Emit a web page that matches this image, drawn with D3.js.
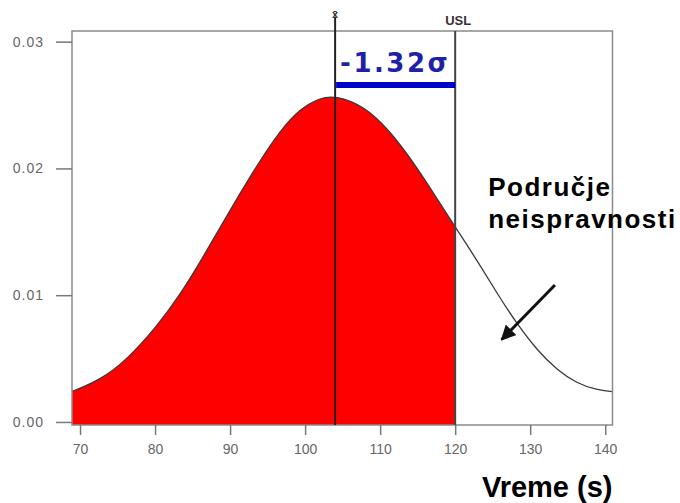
<!DOCTYPE html>
<html>
<head>
<meta charset="utf-8">
<script src="https://cdn.jsdelivr.net/npm/d3@7"></script>
<style>
  body { margin: 0; background: #fff; }
  svg { display: block; }
</style>
</head>
<body>
<div id="chart"></div>
<script>
// Curve points (time in s, density)
const curveX = [68.9, 72.7, 76.2, 80.2, 83.3, 86, 88.7, 91.3, 94, 96.7, 99.3, 102, 104,
                107.8, 111.3, 114.9, 118, 120, 122.9, 125.6, 128.2, 130.9, 133.6, 136.2, 138.9, 141];
const curveY = [0.00239, 0.00331, 0.00488, 0.0075, 0.0100, 0.0126, 0.01538, 0.01801, 0.02063, 0.02299, 0.0247, 0.02557, 0.02575,
                0.02496, 0.02299, 0.0201, 0.01722, 0.01538, 0.01276, 0.01013, 0.00777, 0.00567, 0.00409, 0.00305, 0.00252, 0.00239];
const xTicks = [70, 80, 90, 100, 110, 120, 130, 140];
const yTicks = [0.00, 0.01, 0.02, 0.03];
const meanValue = 104;
const uslValue = 120;
const sigmaLabel = "-1.32σ";
const noteLines = ["Područje", "neispravnosti"];
const arrowFrom = [133.3, 0.0108];
const arrowTo = [126.2, 0.0065];

const W = 680, H = 503;
const margin = { top: 31, right: 67.5, bottom: 78, left: 72 };
const width = W - margin.left - margin.right;
const height = H - margin.top - margin.bottom;

const svg = d3.select("#chart").append("svg")
  .attr("width", W)
  .attr("height", H);

const defs = svg.append("defs");

const g = svg.append("g")
  .attr("transform", `translate(${margin.left},${margin.top})`);

const x = d3.scaleLinear().domain([68.93, 140.97]).range([0, width]);
const y = d3.scaleLinear().domain([-0.00024, 0.03084]).range([height, 0]);

const points = curveX.map((v, i) => ({ x: v, y: curveY[i] }));
const smooth = d3.curveBasis;

// clip for the red part (left of USL)
defs.append("clipPath")
  .attr("id", "below-usl")
  .append("rect")
  .attr("x", 0).attr("y", 0)
  .attr("width", x(uslValue))
  .attr("height", height);

const area = d3.area()
  .x(d => x(d.x))
  .y0(height)
  .y1(d => y(d.y))
  .curve(smooth);

g.append("path")
  .datum(points)
  .attr("clip-path", "url(#below-usl)")
  .attr("fill", "#ff0000")
  .attr("d", area);

// curve outline
const line = d3.line()
  .x(d => x(d.x))
  .y(d => y(d.y))
  .curve(smooth);

g.append("path")
  .datum(points)
  .attr("fill", "none")
  .attr("stroke", "#3a3a3a")
  .attr("stroke-width", 1.3)
  .attr("d", line);

// frame
g.append("rect")
  .attr("width", width)
  .attr("height", height)
  .attr("fill", "none")
  .attr("stroke", "#8a8a8a")
  .attr("stroke-width", 1.5);

// x axis
const xAxis = g.append("g")
  .attr("transform", `translate(0,${height})`)
  .call(d3.axisBottom(x).tickValues(xTicks).tickSize(10).tickPadding(9));
xAxis.select(".domain").remove();
xAxis.selectAll("line").attr("stroke", "#777").attr("stroke-width", 1.5);
xAxis.selectAll("text")
  .attr("fill", "#666")
  .style("font-family", "Liberation Sans, Arial, sans-serif")
  .style("font-size", "14px");

// y axis
const yAxis = g.append("g")
  .call(d3.axisLeft(y).tickValues(yTicks).tickFormat(d3.format(".2f")).tickSize(16).tickPadding(12));
yAxis.select(".domain").remove();
yAxis.selectAll("line").attr("stroke", "#777").attr("stroke-width", 1.5);
yAxis.selectAll("text")
  .attr("fill", "#666")
  .style("font-family", "Liberation Sans, Arial, sans-serif")
  .style("font-size", "14px")
  .style("letter-spacing", "1px");

// mean and USL lines
g.append("line")
  .attr("x1", x(meanValue)).attr("x2", x(meanValue))
  .attr("y1", -14).attr("y2", height)
  .attr("stroke", "#222")
  .attr("stroke-width", 2);

g.append("text")
  .attr("x", x(meanValue))
  .attr("y", -13)
  .attr("text-anchor", "middle")
  .attr("fill", "#333")
  .style("font-family", "Liberation Sans, Arial, sans-serif")
  .style("font-size", "11px")
  .style("font-weight", "bold")
  .text("x̄");

g.append("line")
  .attr("x1", x(uslValue)).attr("x2", x(uslValue))
  .attr("y1", 0).attr("y2", height)
  .attr("stroke", "#444")
  .attr("stroke-width", 2);

g.append("text")
  .attr("x", x(uslValue) + 3)
  .attr("y", -6)
  .attr("text-anchor", "middle")
  .attr("fill", "#333")
  .style("font-family", "Liberation Sans, Arial, sans-serif")
  .style("font-size", "13px")
  .style("font-weight", "bold")
  .text("USL");

// sigma bar and label
g.append("rect")
  .attr("x", x(meanValue) + 1)
  .attr("y", 51)
  .attr("width", x(uslValue) - x(meanValue) - 1)
  .attr("height", 6)
  .attr("fill", "#0000cc");

g.append("text")
  .attr("x", x(meanValue) + 5)
  .attr("y", 41)
  .attr("fill", "#1f1fa8")
  .style("font-family", "DejaVu Sans, Verdana, sans-serif")
  .style("font-size", "26px")
  .style("font-weight", "bold")
  .style("letter-spacing", "2.5px")
  .text(sigmaLabel);

// annotation text
const note = g.append("text")
  .attr("x", x(uslValue) + 33)
  .attr("y", 165)
  .attr("fill", "#000")
  .style("font-family", "Liberation Sans, Arial, sans-serif")
  .style("font-size", "26px")
  .style("font-weight", "bold")
  .style("letter-spacing", "1.5px");

note.selectAll("tspan")
  .data(noteLines)
  .enter().append("tspan")
  .attr("x", x(uslValue) + 33)
  .attr("dy", (d, i) => i === 0 ? 0 : 32)
  .text(d => d);

// arrow
defs.append("marker")
  .attr("id", "arrowhead")
  .attr("viewBox", "0 0 10 10")
  .attr("refX", 9).attr("refY", 5)
  .attr("markerWidth", 5).attr("markerHeight", 5)
  .attr("orient", "auto")
  .append("path")
  .attr("d", "M0,0 L10,5 L0,10 z")
  .attr("fill", "#111");

g.append("line")
  .attr("x1", x(arrowFrom[0])).attr("y1", y(arrowFrom[1]))
  .attr("x2", x(arrowTo[0])).attr("y2", y(arrowTo[1]))
  .attr("stroke", "#111")
  .attr("stroke-width", 3)
  .attr("marker-end", "url(#arrowhead)");

// x axis label
g.append("text")
  .attr("x", width)
  .attr("y", height + 72)
  .attr("text-anchor", "end")
  .attr("fill", "#000")
  .style("font-family", "Liberation Sans, Arial, sans-serif")
  .style("font-size", "29px")
  .style("font-weight", "bold")
  .text("Vreme (s)");
</script>
</body>
</html>
